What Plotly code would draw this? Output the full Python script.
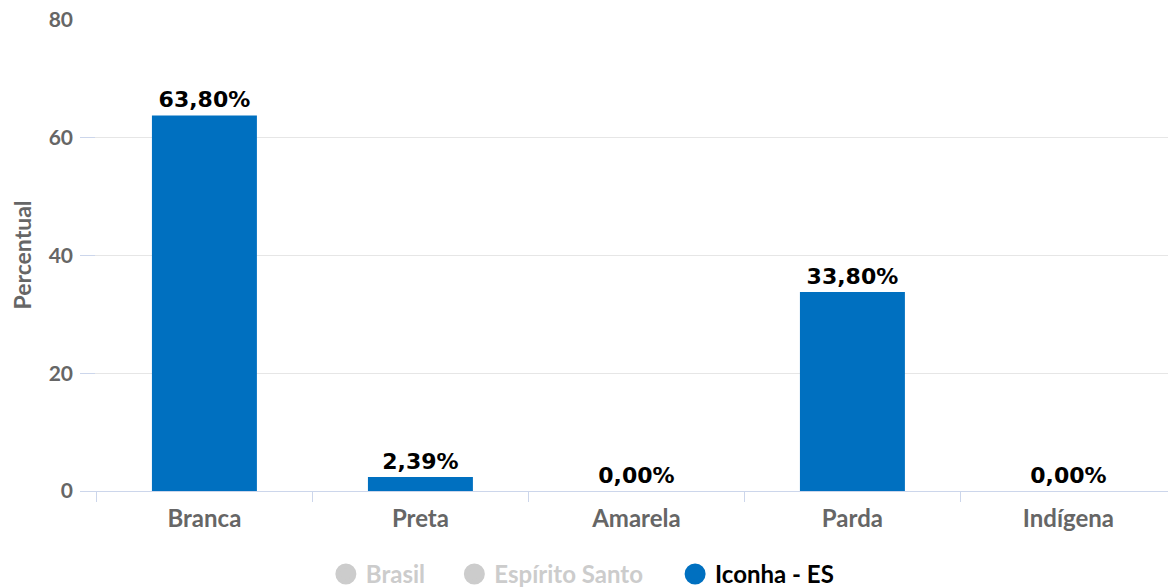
import plotly.graph_objects as go

categories = ["Branca", "Preta", "Amarela", "Parda", "Indígena"]
iconha_values = [63.80, 2.39, 0.00, 33.80, 0.00]
hidden_series = ["Brasil", "Espírito Santo"]
y_ticks = [0, 20, 40, 60, 80]

BLUE = "#0070C0"
GREY_TEXT = "#666666"
AXIS_BLUE = "#ccd6eb"
HIDDEN_GREY = "#cccccc"

labels = [f"{v:.2f}%".replace(".", ",") for v in iconha_values]

fig = go.Figure()
fig.add_trace(go.Bar(
    x=categories, y=iconha_values, name="Iconha - ES",
    marker=dict(color=BLUE, line=dict(width=0)),
    text=labels, textposition="outside", cliponaxis=False,
    textfont=dict(family="DejaVu Sans", size=22, color="#000000", weight="bold"),
    showlegend=False,
))

# legend entries (circle symbols); hidden series shown greyed out
hidden_legends = ["legend2", "legend3"]
for name, lg in zip(hidden_series, hidden_legends):
    fig.add_trace(go.Scatter(
        x=[None], y=[None], mode="markers", name=name,
        marker=dict(color=HIDDEN_GREY, size=16, symbol="circle",
                    line=dict(color=HIDDEN_GREY, width=5)),
        legend=lg,
    ))
fig.add_trace(go.Scatter(
    x=[None], y=[None], mode="markers", name="Iconha - ES",
    marker=dict(color=BLUE, size=16, symbol="circle",
                line=dict(color=BLUE, width=5)),
    legend="legend",
))

legend_y = 0.0215

def legend_cfg(x, color):
    return dict(
        orientation="h", xref="container", yref="container",
        x=x, y=legend_y, xanchor="left", yanchor="middle",
        font=dict(family="Lato", size=24, color=color, weight="bold"),
        bgcolor="rgba(0,0,0,0)",
    )

fig.update_layout(
    width=1168, height=587,
    margin=dict(l=80, r=0, t=19, b=96),
    plot_bgcolor="white", paper_bgcolor="white",
    bargap=0.514,
    font=dict(family="Lato", color=GREY_TEXT),
    xaxis=dict(
        type="category", categoryorder="array", categoryarray=categories,
        range=[-0.576, 4.461], automargin=False,
        showline=True, linecolor=AXIS_BLUE, linewidth=1,
        ticks="outside", tickson="boundaries", ticklen=10, tickcolor=AXIS_BLUE,
        ticklabelstandoff=6,
        tickfont=dict(family="Lato", size=24, color=GREY_TEXT, weight="bold"),
        showgrid=False,
    ),
    yaxis=dict(
        range=[0, 80.17], tickvals=y_ticks, automargin=False,
        showgrid=True, gridcolor="#e6e6e6", gridwidth=1,
        zeroline=False,
        ticks="inside", ticklen=15, tickcolor=AXIS_BLUE,
        ticklabelstandoff=6,
        tickfont=dict(family="Lato", size=21, color=GREY_TEXT, weight="bold"),
        title=dict(text="Percentual", standoff=10,
                   font=dict(family="Lato", size=23, color=GREY_TEXT, weight="bold")),
    ),
    legend=legend_cfg(0.578, "#000000"),
    legend2=legend_cfg(0.279, HIDDEN_GREY),
    legend3=legend_cfg(0.389, HIDDEN_GREY),
)

fig.write_html(
    "out.html",
    config={"displayModeBar": False},
    post_script="document.body.style.margin='0';document.body.style.overflow='hidden';",
)
